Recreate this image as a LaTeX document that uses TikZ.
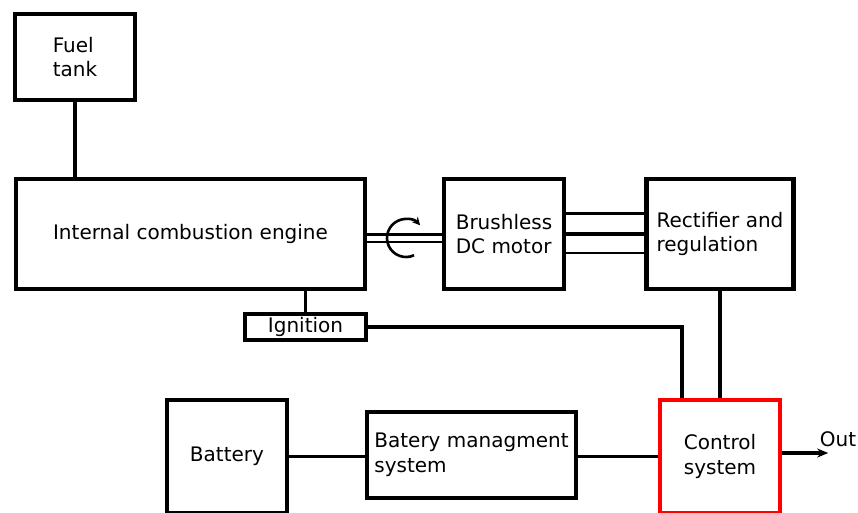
\documentclass[tikz,border=0pt]{standalone}
\usepackage{fontspec}
\setmainfont{DejaVu Sans}
\usetikzlibrary{arrows.meta,calc}
\begin{document}
\begin{tikzpicture}[x=1pt,y=-1pt,
  box/.style={draw=black,line width=4.4pt,fill=white,inner sep=0pt,align=left,
    font=\fontsize{20}{24.5}\selectfont},
  wire/.style={draw=black,line width=3.4pt},
  thinwire/.style={draw=black,line width=2.9pt},
  lbl/.style={inner sep=0pt,font=\fontsize{20}{24.5}\selectfont}]
\useasboundingbox (0,0) rectangle (858,512);
\clip (0,0) rectangle (858,512);
\fill[white] (0,0) rectangle (858,512);
% boxes
\node[box,minimum width=120pt,minimum height=86pt] (fuel) at (75,57) {Fuel\\tank};
\node[box,minimum width=349pt,minimum height=110pt] (ice) at (190.5,234) {Internal combustion engine};
\node[box,minimum width=120pt,minimum height=110pt] (motor) at (504,234) {Brushless\\DC motor};
\node[box,minimum width=147pt,minimum height=110pt] (rect) at (720,234) {Rectifier and\\regulation};
\node[box,line width=3.6pt,minimum width=121pt,minimum height=26pt] (ign) at (305.5,327) {Ignition};
\node[box,minimum width=120pt,minimum height=113pt] (bat) at (227,456.5) {Battery};
\node[box,minimum width=209pt,minimum height=86pt] (bms) at (471.5,455) {Batery managment\\system};
\node[box,draw=red,minimum width=120pt,minimum height=113pt] (ctrl) at (720,456.5) {Control\\system};
% connectors
\draw[wire] (fuel.south) -- (fuel.south |- ice.north);
\draw[wire] (ign.north) -- (ign.north |- ice.south);
% shaft
\draw[thinwire] ([yshift=-0.5pt]ice.east) -- ([yshift=-0.5pt]motor.west);
\draw[thinwire] ([yshift=-8pt]ice.east) -- ([yshift=-8pt]motor.west);
\coordinate (rot) at (406,238);
\draw[line width=2.6pt,-{Stealth[length=8pt,width=8pt]}] ($(rot)+(65:19)$) arc[start angle=65,end angle=318,radius=19];
% motor to rectifier
\draw[thinwire] ([yshift=20.3pt]motor.east) -- ([yshift=20.3pt]rect.west);
\draw[draw=black,line width=4.2pt] ([yshift=0.3pt]motor.east) -- ([yshift=0.3pt]rect.west);
\draw[thinwire] ([yshift=-19pt]motor.east) -- ([yshift=-19pt]rect.west);
% rectifier to control
\draw[wire] (rect.south) -- (ctrl.north);
% ignition to control
\coordinate (ctrlin) at ([xshift=-38pt]ctrl.north);
\draw[wire] (ign.east) -| (ctrlin);
% battery chain
\draw[wire] (bat.east) -- (bat.east -| bms.west);
\draw[wire] (bms.east |- bat.east) -- (ctrl.west);
% output
\coordinate (outstart) at ([yshift=3.5pt]ctrl.east);
\coordinate (outend) at ($(outstart)+(46,0)$);
\draw[wire,-{Stealth[length=11pt,width=9pt]}] (outstart) -- (outend);
\node[lbl] (outlbl) at (838,439) {Out};
\end{tikzpicture}
\end{document}
